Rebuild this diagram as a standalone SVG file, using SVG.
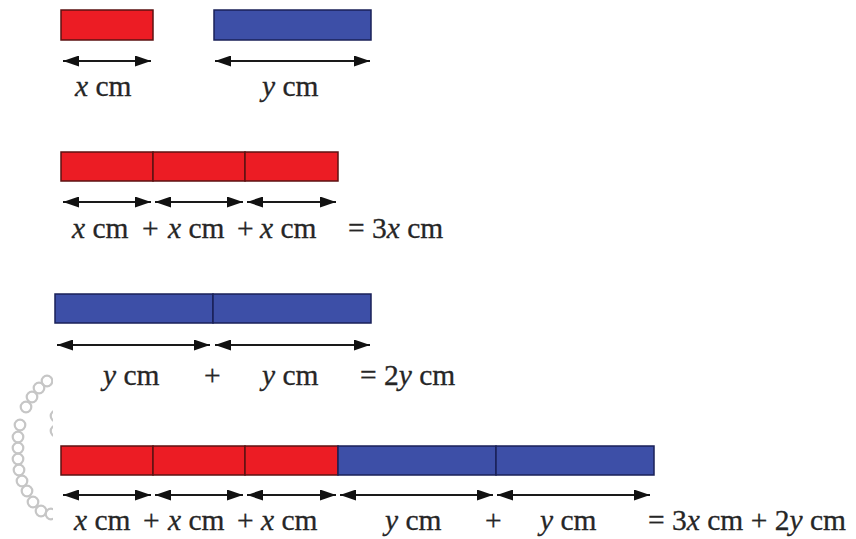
<svg xmlns="http://www.w3.org/2000/svg" width="856" height="539" viewBox="0 0 856 539">
  <defs>
    <style>
      .red { fill: #ec1c24; stroke: #5c1212; stroke-width: 1.5; }
      .blue { fill: #3d4fa7; stroke: #1a2058; stroke-width: 1.5; }
      .dim { stroke: #1a1a1a; stroke-width: 2; fill: none; marker-start: url(#head); marker-end: url(#head); }
      .lbl text { font-family: "Liberation Serif", "Times New Roman", serif; font-size: 29.5px; fill: #262626; stroke: #262626; stroke-width: 0.3; }
      .v { font-style: italic; }
      .ring { fill: none; stroke: #c6c6c6; stroke-width: 2.2; }
    </style>
    <marker id="head" viewBox="0 0 16 11" refX="16" refY="5.5" markerWidth="16" markerHeight="11" markerUnits="userSpaceOnUse" orient="auto-start-reverse">
      <path d="M0,0 L16,5.5 L0,11 z" fill="#111"/>
    </marker>
    <clipPath id="ringClip">
      <rect x="0" y="370" width="53" height="160"/>
    </clipPath>
  </defs>

  <rect width="856" height="539" fill="#ffffff"/>

  <!-- small chain of rings at the lower left -->
  <g id="rings" class="ring" clip-path="url(#ringClip)">
    <circle cx="47" cy="381" r="5.3"/>
    <circle cx="39" cy="388" r="5.3"/>
    <circle cx="32" cy="397" r="5.3"/>
    <circle cx="26" cy="407" r="5.3"/>
    <circle cx="20" cy="425" r="5.3"/>
    <circle cx="18" cy="437" r="5.3"/>
    <circle cx="18" cy="448" r="5.3"/>
    <circle cx="18" cy="459" r="5.3"/>
    <circle cx="19" cy="470" r="5.3"/>
    <circle cx="22" cy="481" r="5.3"/>
    <circle cx="27" cy="491" r="5.3"/>
    <circle cx="33" cy="502" r="5.3"/>
    <circle cx="41" cy="511" r="5.3"/>
    <circle cx="51" cy="514" r="5.3"/>
    <circle cx="56" cy="416" r="5.3"/>
    <circle cx="56" cy="431" r="5.3"/>
  </g>

  <!-- row 1: single strips -->
  <g id="row1">
    <rect class="red" x="61" y="10" width="92" height="30"/>
    <rect class="blue" x="214" y="10" width="157" height="30"/>
  </g>

  <!-- row 2: three red strips -->
  <g id="row2">
    <rect class="red" x="61" y="152" width="92" height="29"/>
    <rect class="red" x="153" y="152" width="92" height="29"/>
    <rect class="red" x="245" y="152" width="93" height="29"/>
  </g>

  <!-- row 3: two blue strips -->
  <g id="row3">
    <rect class="blue" x="55" y="294" width="158" height="29"/>
    <rect class="blue" x="213" y="294" width="158" height="29"/>
  </g>

  <!-- row 4: three red and two blue strips -->
  <g id="row4">
    <rect class="red" x="61" y="446" width="92" height="29"/>
    <rect class="red" x="153" y="446" width="92" height="29"/>
    <rect class="red" x="245" y="446" width="93" height="29"/>
    <rect class="blue" x="338" y="446" width="158" height="29"/>
    <rect class="blue" x="496" y="446" width="158" height="29"/>
  </g>

  <!-- length arrows -->
  <g id="connectors">
    <line class="dim" x1="63" y1="61" x2="151" y2="61"/>
    <line class="dim" x1="215" y1="61" x2="370" y2="61"/>

    <line class="dim" x1="63" y1="202" x2="151" y2="202"/>
    <line class="dim" x1="155" y1="202" x2="243" y2="202"/>
    <line class="dim" x1="247" y1="202" x2="336" y2="202"/>

    <line class="dim" x1="57" y1="345" x2="210" y2="345"/>
    <line class="dim" x1="215" y1="345" x2="370" y2="345"/>

    <line class="dim" x1="63" y1="495" x2="151" y2="495"/>
    <line class="dim" x1="155" y1="495" x2="243" y2="495"/>
    <line class="dim" x1="247" y1="495" x2="336" y2="495"/>
    <line class="dim" x1="340" y1="495" x2="493" y2="495"/>
    <line class="dim" x1="497" y1="495" x2="650" y2="495"/>
  </g>

  <!-- labels -->
  <g id="labels" class="lbl">
    <text x="75" y="96"><tspan class="v">x</tspan> cm</text>
    <text x="262" y="96"><tspan class="v">y</tspan> cm</text>

    <text x="72" y="238"><tspan class="v">x</tspan> cm</text>
    <text x="142" y="238">+</text>
    <text x="168" y="238"><tspan class="v">x</tspan> cm</text>
    <text x="237" y="238">+</text>
    <text x="260" y="238"><tspan class="v">x</tspan> cm</text>
    <text x="348" y="238">= 3<tspan class="v">x</tspan> cm</text>

    <text x="103" y="385"><tspan class="v">y</tspan> cm</text>
    <text x="204" y="385">+</text>
    <text x="262" y="385"><tspan class="v">y</tspan> cm</text>
    <text x="360" y="385">= 2<tspan class="v">y</tspan> cm</text>

    <text x="74" y="530"><tspan class="v">x</tspan> cm</text>
    <text x="143" y="530">+</text>
    <text x="168" y="530"><tspan class="v">x</tspan> cm</text>
    <text x="237" y="530">+</text>
    <text x="261" y="530"><tspan class="v">x</tspan> cm</text>
    <text x="385" y="530"><tspan class="v">y</tspan> cm</text>
    <text x="485" y="530">+</text>
    <text x="540" y="530"><tspan class="v">y</tspan> cm</text>
    <text x="648" y="530">= 3<tspan class="v">x</tspan> cm + 2<tspan class="v">y</tspan> cm</text>
  </g>
</svg>
